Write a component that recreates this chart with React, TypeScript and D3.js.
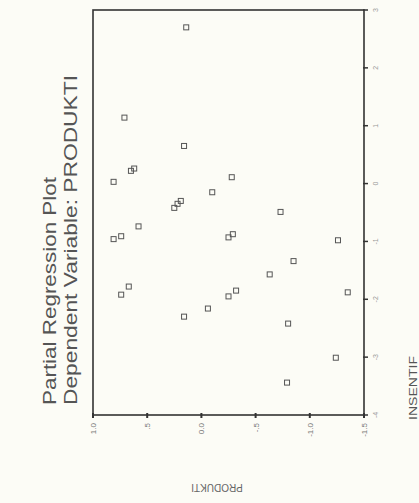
import React, { useRef, useEffect } from "react";
import * as d3 from "d3";

const W = 419;
const H = 503;

// partial regression residuals
const insentif = [
  2.7, 1.14, 0.65, 0.22, 0.26, 0.03, 0.11, -0.15, -0.3, -0.35, -0.42, -0.49,
  -0.74, -0.91, -0.96, -0.875, -0.93, -0.98, -1.34, -1.57, -1.78, -1.92,
  -1.88, -1.85, -1.95, -2.16, -2.3, -2.42, -3.01, -3.44,
];
const produkti = [
  0.14, 0.71, 0.16, 0.65, 0.62, 0.81, -0.28, -0.1, 0.19, 0.22, 0.25, -0.73,
  0.58, 0.74, 0.81, -0.29, -0.25, -1.26, -0.85, -0.63, 0.67, 0.74, -1.35,
  -0.32, -0.25, -0.06, 0.16, -0.8, -1.24, -0.79,
];

const produktiTicks = [1.0, 0.5, 0.0, -0.5, -1.0, -1.5];
const produktiLabels = ["1.0", ".5", "0.0", "-.5", "-1.0", "-1.5"];
const insentifTicks = [-4, -3, -2, -1, 0, 1, 2, 3];
const insentifLabels = ["-4", "-3", "-2", "-1", "0", "1", "2", "3"];

const App = () => {
  const svgRef = useRef(null);

  useEffect(() => {
    const svg = d3.select(svgRef.current);
    svg.selectAll("*").remove();

    svg.append("rect").attr("width", W).attr("height", H).attr("fill", "#fcfcf6");

    // the scan is turned on its side: PRODUKTI runs along the bottom, INSENTIF up the right
    const left = 93, right = 364, top = 10, bottom = 415;
    const px = d3.scaleLinear().domain([1.0, -1.5]).range([left, right]);
    const py = d3.scaleLinear().domain([-4, 3]).range([bottom, top]);

    // titles
    svg.append("text")
      .attr("transform", `translate(56,405) rotate(-90)`)
      .attr("textLength", 228)
      .attr("lengthAdjust", "spacingAndGlyphs")
      .style("font-family", "Liberation Sans, Arial, sans-serif")
      .style("font-size", "18px")
      .style("fill", "#555")
      .text("Partial Regression Plot");

    svg.append("text")
      .attr("transform", `translate(77,405) rotate(-90)`)
      .attr("textLength", 330)
      .attr("lengthAdjust", "spacingAndGlyphs")
      .style("font-family", "Liberation Sans, Arial, sans-serif")
      .style("font-size", "18px")
      .style("fill", "#555")
      .text("Dependent Variable: PRODUKTI");

    // frame
    svg.append("rect")
      .attr("x", left)
      .attr("y", top)
      .attr("width", right - left)
      .attr("height", bottom - top)
      .attr("fill", "none")
      .attr("stroke", "#333")
      .attr("stroke-width", 1.6);

    // PRODUKTI ticks along bottom
    const gb = svg.append("g");
    gb.selectAll("line")
      .data(produktiTicks)
      .enter()
      .append("line")
      .attr("x1", d => px(d))
      .attr("x2", d => px(d))
      .attr("y1", bottom - 2)
      .attr("y2", bottom + 3)
      .attr("stroke", "#333")
      .attr("stroke-width", 2);
    gb.selectAll("text")
      .data(produktiTicks)
      .enter()
      .append("text")
      .attr("transform", d => `translate(${px(d) + 3},${bottom + 8}) rotate(-90)`)
      .attr("text-anchor", "end")
      .style("font-family", "Liberation Sans, Arial, sans-serif")
      .style("font-size", "8px")
      .style("fill", "#777")
      .text((d, i) => produktiLabels[i]);

    // INSENTIF ticks along right
    const gr = svg.append("g");
    gr.selectAll("line")
      .data(insentifTicks)
      .enter()
      .append("line")
      .attr("x1", right - 1)
      .attr("x2", right + 4)
      .attr("y1", d => py(d))
      .attr("y2", d => py(d))
      .attr("stroke", "#333")
      .attr("stroke-width", 1.5);
    gr.selectAll("text")
      .data(insentifTicks)
      .enter()
      .append("text")
      .attr("transform", d => `translate(${right + 14},${py(d)}) rotate(-90)`)
      .attr("text-anchor", "middle")
      .style("font-family", "Liberation Sans, Arial, sans-serif")
      .style("font-size", "7px")
      .style("fill", "#999")
      .text((d, i) => insentifLabels[i]);

    // axis titles
    svg.append("text")
      .attr("transform", `translate(217,484) rotate(180)`)
      .attr("text-anchor", "middle")
      .style("font-family", "Liberation Sans, Arial, sans-serif")
      .style("font-size", "10px")
      .style("fill", "#666")
      .text("PRODUKTI");

    svg.append("text")
      .attr("transform", `translate(417,388) rotate(-90)`)
      .attr("text-anchor", "middle")
      .attr("textLength", 64)
      .attr("lengthAdjust", "spacingAndGlyphs")
      .style("font-family", "Liberation Sans, Arial, sans-serif")
      .style("font-size", "11px")
      .style("fill", "#555")
      .text("INSENTIF");

    // points
    const pts = insentif.map((v, i) => ({ ins: v, prod: produkti[i] }));
    svg.append("g")
      .selectAll("rect")
      .data(pts)
      .enter()
      .append("rect")
      .attr("x", d => px(d.prod) - 2.5)
      .attr("y", d => py(d.ins) - 2.5)
      .attr("width", 5)
      .attr("height", 5)
      .attr("fill", "none")
      .attr("stroke", "#555")
      .attr("stroke-width", 1);
  }, []);

  return (
    <svg
      ref={svgRef}
      width={W}
      height={H}
      style={{ position: "absolute", left: 0, top: 0, display: "block" }}
    />
  );
};

export default App;
